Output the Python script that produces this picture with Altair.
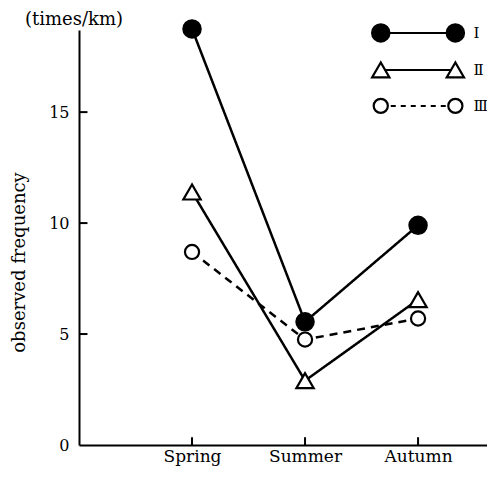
import altair as alt
import pandas as pd

seasons = ["Spring", "Summer", "Autumn"]
series_I = [18.75, 5.55, 9.9]
series_II = [11.4, 2.9, 6.55]
series_III = [8.7, 4.75, 5.7]
series_names = ["Ⅰ", "Ⅱ", "Ⅲ"]
y_ticks = [5, 10, 15]

FONT = "DejaVu Serif"

rows = []
for name, vals in zip(series_names, [series_I, series_II, series_III]):
    for i, (s, v) in enumerate(zip(seasons, vals)):
        rows.append({"series": name, "season": s, "pos": i + 1, "value": v})
df = pd.DataFrame(rows)

xscale = alt.Scale(domain=[0, 3.61], nice=False, zero=False)
yscale = alt.Scale(domain=[0, 18.7], nice=False)

xaxis = alt.Axis(values=[1, 2, 3], labelExpr="['','Spring','Summer','Autumn'][datum.value]",
                 grid=False, ticks=False, domainColor="black", domainWidth=2,
                 labelFont=FONT, labelFontSize=17, labelColor="black", labelPadding=3, title=None)
yaxis = alt.Axis(values=[0, 5, 10, 15], grid=False, ticks=False, domainColor="black", domainWidth=2,
                 labelFont=FONT, labelFontSize=16, labelColor="black", labelPadding=10,
                 title="observed frequency", titleFont=FONT, titleFontSize=18,
                 titleFontWeight="normal", titleColor="black", titlePadding=20, titleY=232)

base = alt.Chart(df).encode(
    x=alt.X("pos:Q", scale=xscale, axis=xaxis),
    y=alt.Y("value:Q", scale=yscale, axis=yaxis),
)

def series_layers(name, dash, shape, filled, size):
    d = base.transform_filter(alt.datum.series == name)
    line = d.mark_line(color="black", strokeWidth=2.5, strokeDash=dash)
    pt = d.mark_point(shape=shape, filled=True, fill="black" if filled else "white",
                      stroke="black", strokeWidth=2.2, size=size, opacity=1)
    return [line, pt]

layers = []
layers += series_layers("Ⅰ", [1, 0], "circle", True, 300)
layers += series_layers("Ⅱ", [1, 0], "triangle-up", False, 300)
layers += series_layers("Ⅲ", [8, 6], "circle", False, 200)

# inward ticks
xt = pd.DataFrame({"pos": [1, 2, 3], "y0": [0] * 3, "y1": [0.35] * 3})
xticks = alt.Chart(xt).mark_rule(color="black", strokeWidth=2).encode(
    x="pos:Q", y="y0:Q", y2="y1:Q")
yt = pd.DataFrame({"value": y_ticks, "x0": [0] * 3, "x1": [0.075] * 3})
yticks = alt.Chart(yt).mark_rule(color="black", strokeWidth=2).encode(
    y="value:Q", x="x0:Q", x2="x1:Q")

# legend
leg_x = [2.67, 3.33]
leg_y = [18.57, 16.9, 15.28]
leg_rows = []
for name, ly in zip(series_names, leg_y):
    for lx in leg_x:
        leg_rows.append({"series": name, "pos": lx, "value": ly})
ldf = pd.DataFrame(leg_rows)
lbase = alt.Chart(ldf).encode(x="pos:Q", y="value:Q")

def leg_layers(name, dash, shape, filled, size):
    d = lbase.transform_filter(alt.datum.series == name)
    return [d.mark_line(color="black", strokeWidth=2, strokeDash=dash),
            d.mark_point(shape=shape, filled=True, fill="black" if filled else "white",
                         stroke="black", strokeWidth=2.2, size=size, opacity=1)]

layers += leg_layers("Ⅰ", [1, 0], "circle", True, 300)
layers += leg_layers("Ⅱ", [1, 0], "triangle-up", False, 300)
layers += leg_layers("Ⅲ", [5, 5], "circle", False, 200)

lab = pd.DataFrame({"series": series_names, "pos": [3.49] * 3, "value": leg_y})
labels = alt.Chart(lab).mark_text(align="left", baseline="middle", font=FONT, fontSize=15,
                                   color="black").encode(x="pos:Q", y="value:Q", text="series:N")

chart = alt.layer(xticks, yticks, *layers, labels).properties(
    width=408, height=415,
    title=alt.TitleParams("(times/km)", anchor="start", frame="group", dx=-54, dy=13, offset=0,
                          font=FONT, fontSize=18, fontWeight="normal", color="black"),
    padding={"left": 71, "top": 22, "right": 0, "bottom": 25},
    autosize=alt.AutoSizeParams(type="none"),
).configure_view(stroke=None)

chart.save("out.html", embed_options={"renderer": "svg", "actions": False})
